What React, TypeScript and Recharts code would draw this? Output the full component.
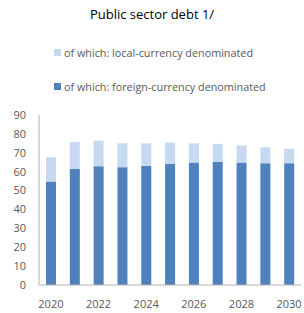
import { Bar, BarChart, XAxis, YAxis } from 'recharts';

const years = ['2020', '2021', '2022', '2023', '2024', '2025', '2026', '2027', '2028', '2029', '2030'];
const foreignCurrency = [54.8, 61.5, 62.9, 62.4, 63.1, 64.1, 64.8, 65.2, 64.8, 64.5, 64.5];
const localCurrency = [12.8, 14.2, 13.5, 12.6, 11.9, 11.3, 10.2, 9.5, 9.0, 8.4, 7.6];
const yTicks = [0, 10, 20, 30, 40, 50, 60, 70, 80, 90];

const data = years.map((year, i) => ({
  year,
  foreign: foreignCurrency[i],
  local: localCurrency[i],
}));

const FONT = '"Open Sans", sans-serif';
const TEXT = '#595959';
const BORDER = '#b3b3b3';

const legendItems = [
  { name: 'of which: local-currency denominated', color: '#c6d9f1' },
  { name: 'of which: foreign-currency denominated', color: '#4f81bd' },
];

function DebtLegend() {
  return (
    <div style={{ position: 'absolute', top: 35, left: 0, width: 304, fontFamily: FONT, fontSize: 10.8, color: TEXT }}>
      {legendItems.map((item) => (
        <div key={item.name} style={{ display: 'flex', alignItems: 'center', height: 34, paddingLeft: 54 }}>
          <span style={{ width: 7, height: 7, background: item.color, marginRight: 3 }} />
          <span>{item.name}</span>
        </div>
      ))}
    </div>
  );
}

export default function App() {
  return (
    <div style={{ position: 'absolute', left: 0, top: 0, width: 304, height: 313, background: '#fff' }}>
      <div
        style={{
          position: 'absolute',
          top: 5,
          width: 304,
          textAlign: 'center',
          fontFamily: FONT,
          fontSize: 13,
          color: '#000',
        }}
      >
        Public sector debt 1/
      </div>
      <DebtLegend />
      <BarChart width={304} height={313} data={data} margin={{ top: 115, right: 3, bottom: 8, left: 9 }}>
        <XAxis
          dataKey="year"
          interval={1}
          tickLine={false}
          tickSize={0}
          tickMargin={15}
          height={20}
          axisLine={{ stroke: BORDER }}
          tick={{ fill: TEXT, fontSize: 11, fontFamily: FONT }}
        />
        <XAxis xAxisId="top" orientation="top" dataKey="year" height={0} tick={false} tickLine={false} axisLine={{ stroke: BORDER }} />
        <YAxis
          domain={[0, 90]}
          ticks={yTicks}
          width={30}
          tickLine={false}
          tickSize={0}
          tickMargin={13}
          axisLine={{ stroke: BORDER }}
          tick={{ fill: TEXT, fontSize: 11, fontFamily: FONT }}
        />
        <YAxis yAxisId="right" orientation="right" domain={[0, 90]} width={0} tick={false} tickLine={false} axisLine={{ stroke: BORDER }} />
        <Bar dataKey="foreign" stackId="a" fill="#4f81bd" barSize={10} isAnimationActive={false} />
        <Bar dataKey="local" stackId="a" fill="#c6d9f1" barSize={10} isAnimationActive={false} />
      </BarChart>
    </div>
  );
}
